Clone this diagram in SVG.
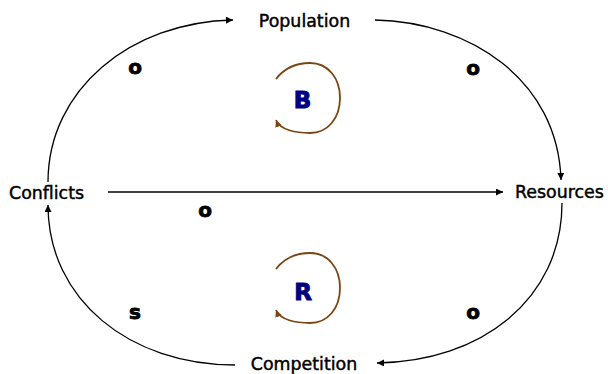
<svg xmlns="http://www.w3.org/2000/svg" width="608" height="374" viewBox="0 0 608 374">
<style>
.node{font-family:"DejaVu Sans","Liberation Sans",sans-serif;font-size:17.4px;fill:#000;stroke:#000;stroke-width:0.45}
.pol{font-family:"DejaVu Sans","Liberation Sans",sans-serif;font-size:20px;font-weight:bold;fill:#000;stroke:#000;stroke-width:0.8}
.loopl{font-family:"DejaVu Sans","Liberation Sans",sans-serif;font-size:23px;font-weight:bold;fill:#000080;stroke:#000080;stroke-width:1}
.link{fill:none;stroke:#000;stroke-width:1.3;marker-end:url(#ah)}
.loop{fill:none;stroke:#7a4512;stroke-width:1.8;marker-end:url(#lh)}
</style>
<defs>
<marker id="ah" viewBox="0 0 10 10" refX="10" refY="5" markerWidth="8" markerHeight="7" markerUnits="userSpaceOnUse" orient="auto">
<path d="M0,0 L10,5 L0,10 Z" fill="#000"/>
</marker>
<marker id="lh" viewBox="0 0 10 10" refX="10" refY="5" markerWidth="7" markerHeight="7" markerUnits="userSpaceOnUse" orient="auto">
<path d="M0,0 L10,5 L0,10 Z" fill="#7a4512"/>
</marker>
</defs>
<g id="connectors">
<path class="link" d="M48,182 C48,90 130,22 233,20"/>
<path class="link" d="M375,20 C470,22 558,80 561,180"/>
<path class="link" d="M562,203 C562,300 480,362 377,363"/>
<path class="link" d="M235,365 C130,365 48,300 48,205"/>
<path class="link" d="M108,192 L503,192"/>
</g>
<g id="polarities">
<text class="pol" x="135" y="74" text-anchor="middle">o</text>
<text class="pol" x="473" y="75" text-anchor="middle">o</text>
<text class="pol" x="205" y="217" text-anchor="middle">o</text>
<text class="pol" x="135" y="319" text-anchor="middle">s</text>
<text class="pol" x="473" y="319" text-anchor="middle">o</text>
</g>
<g id="loop-B">
<path class="loop" d="M276,79 C286,66 300,63 310,63 C328,63 340,78 340,98 C340,118 328,133 310,133 C296,133 280,130 276,120"/>
<text class="loopl" x="302.5" y="108" text-anchor="middle">B</text>
</g>
<g id="loop-R">
<path class="loop" d="M276,269 C286,256 300,253 310,253 C328,253 340,268 340,288 C340,308 328,323 310,323 C296,323 280,320 276,310"/>
<text class="loopl" x="303" y="300" text-anchor="middle">R</text>
</g>
<g id="population"><text class="node" x="304.5" y="27" text-anchor="middle">Population</text></g>
<g id="conflicts"><text class="node" x="9" y="199">Conflicts</text></g>
<g id="resources"><text class="node" x="515" y="198">Resources</text></g>
<g id="competition"><text class="node" x="304" y="370" text-anchor="middle">Competition</text></g>
</svg>
